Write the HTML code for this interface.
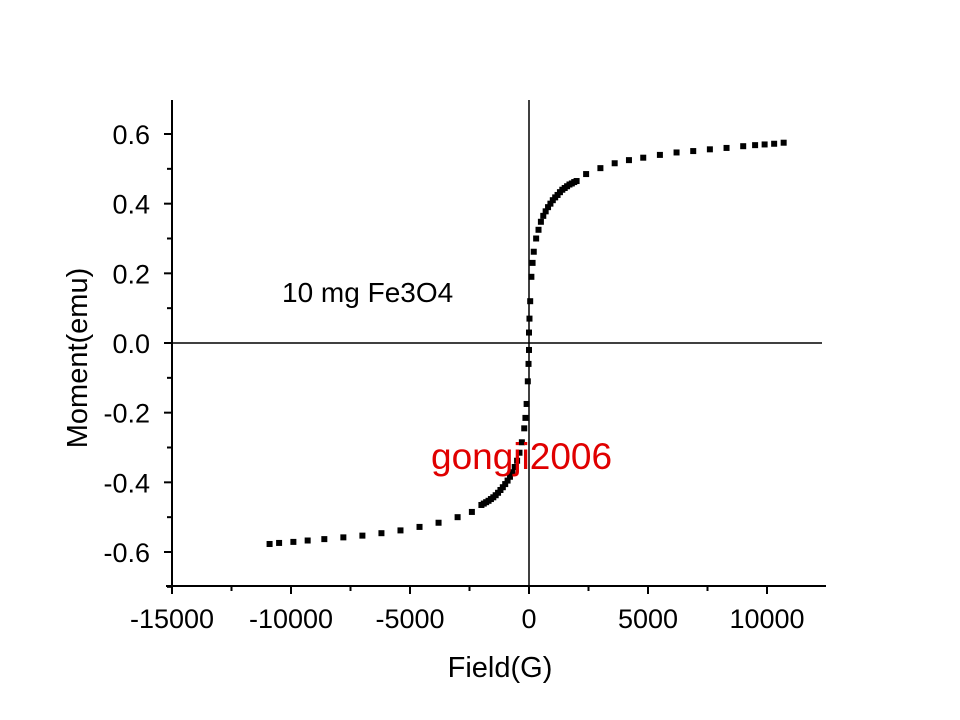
<!DOCTYPE html>
<html><head><meta charset="utf-8"><style>
html,body{margin:0;padding:0;background:#fff;}
svg{display:block;font-family:"Liberation Sans",Arial,sans-serif;}
</style></head><body>
<svg id="chart" width="960" height="720" viewBox="0 0 960 720">
<g id="axes"></g>
<g id="marks"></g>
<text x="282" y="302" font-size="28" fill="#000">10 mg Fe3O4</text>
<text x="431" y="469" font-size="37" fill="#e00000">gongji2006</text>
<text x="500" y="677" font-size="29" text-anchor="middle" fill="#000">Field(G)</text>
<text x="0" y="0" font-size="29" text-anchor="middle" fill="#000" transform="translate(87,358) rotate(-90)">Moment(emu)</text>
</svg>
<script>
const xTicks=[-15000,-10000,-5000,0,5000,10000];
const yTicks=[-0.6,-0.4,-0.2,0.0,0.2,0.4,0.6];
const fieldPos=[10700,10300,9900,9500,9000,8300,7600,6900,6200,5500,4800,4200,3600,3000,2400,2000,1900,1800,1700,1600,1500,1400,1300,1200,1100,1000,900,800,700,600,500,400,300,200,150,100,50,20,0];
const momentPos=[0.575,0.572,0.570,0.568,0.565,0.560,0.556,0.551,0.547,0.540,0.532,0.525,0.516,0.502,0.485,0.465,0.462,0.458,0.455,0.450,0.445,0.440,0.433,0.425,0.418,0.410,0.400,0.390,0.378,0.365,0.348,0.325,0.300,0.262,0.230,0.190,0.120,0.070,0.030];
const fieldNeg=[-10900,-10500,-9900,-9300,-8600,-7800,-7000,-6200,-5400,-4600,-3800,-3000,-2400,-2000,-1900,-1800,-1700,-1600,-1500,-1400,-1300,-1200,-1100,-1000,-900,-800,-700,-600,-500,-400,-300,-200,-150,-100,-50,-20,0];
const momentNeg=[-0.577,-0.574,-0.571,-0.567,-0.563,-0.558,-0.553,-0.546,-0.538,-0.528,-0.516,-0.500,-0.485,-0.465,-0.461,-0.457,-0.453,-0.448,-0.443,-0.437,-0.430,-0.422,-0.414,-0.405,-0.395,-0.384,-0.371,-0.356,-0.338,-0.315,-0.285,-0.245,-0.215,-0.175,-0.110,-0.060,-0.020];
const NS="http://www.w3.org/2000/svg";
const X0=529,XS=238/10000,Y0=343,YS=209/0.6;
const xs=v=>X0+v*XS, ys=v=>Y0-v*YS;
const ax=document.getElementById('axes'), mk=document.getElementById('marks');
function line(g,x1,y1,x2,y2,w,name){const l=document.createElementNS(NS,'line');l.setAttribute('x1',x1);l.setAttribute('y1',y1);l.setAttribute('x2',x2);l.setAttribute('y2',y2);l.setAttribute('stroke','#000');l.setAttribute('stroke-width',w);


g.appendChild(l);return l;}
function text(g,x,y,s,anchor,name){const t=document.createElementNS(NS,'text');t.setAttribute('x',x);t.setAttribute('y',y);t.setAttribute('font-size','27');t.setAttribute('text-anchor',anchor);t.textContent=s;


g.appendChild(t);}
line(ax,172,100,172,587,2,'y-axis');
line(ax,166,586,826,586,2,'x-axis');
line(ax,X0,100,X0,586,1.5,'zero-vertical-line');
line(ax,172,Y0,822,Y0,1.5,'zero-horizontal-line');
xTicks.forEach(v=>{const x=xs(v);line(ax,x,586,x,594,2,'x-tick');text(ax,x,628,String(v),'middle','x-tick-label');
const m=xs(v+2500);if(m<826)line(ax,m,586,m,591,2,'x-minor-tick');});
yTicks.forEach(v=>{const y=ys(v);line(ax,164,y,172,y,2,'y-tick');text(ax,150,y+10,v.toFixed(1),'end','y-tick-label');
const m=ys(v+0.1);if(m>=100)line(ax,167,m,172,m,2,'y-minor-tick');});
const m0=ys(-0.7);line(ax,167,m0,172,m0,2,'y-minor-tick');
function pts(F,M){F.forEach((f,i)=>{const r=document.createElementNS(NS,'rect');r.setAttribute('x',xs(f)-3);r.setAttribute('y',ys(M[i])-3);r.setAttribute('width',6);r.setAttribute('height',6);r.setAttribute('fill','#000');


mk.appendChild(r);});}
pts(fieldPos,momentPos);pts(fieldNeg,momentNeg);
</script>
</body></html>
